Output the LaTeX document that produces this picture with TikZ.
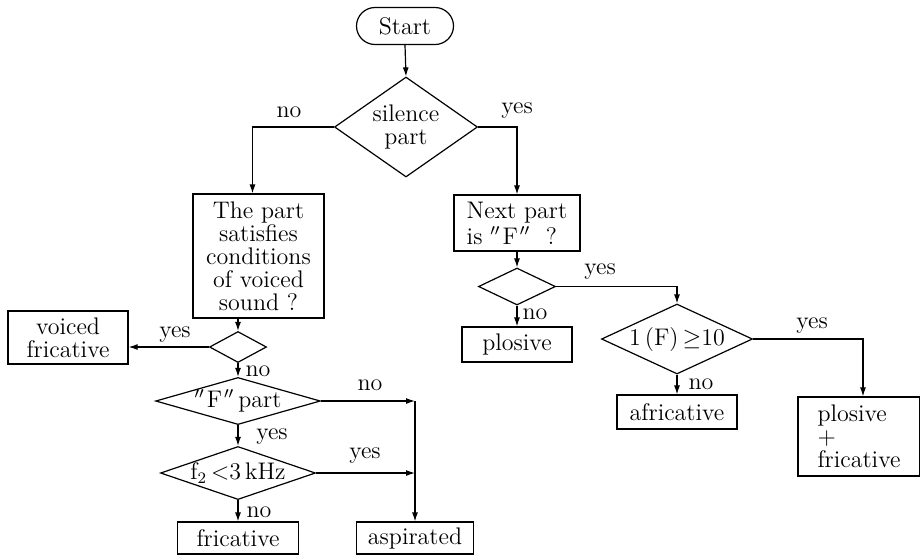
\documentclass[tikz,border=0pt]{standalone}
\usetikzlibrary{shapes.geometric,shapes.misc,arrows.meta,calc}
\begin{document}
\begin{tikzpicture}[x=0.5pt,y=-0.5pt,
  font=\fontsize{12}{11.5}\selectfont,
  line width=0.6pt,
  box/.style={draw,rectangle,inner sep=0pt,align=center},
  dia/.style={draw,diamond,inner sep=0pt,align=center},
  lab/.style={inner sep=0pt},
  arr/.style={-{Latex[length=4.5pt,width=3pt]}}]
\useasboundingbox (0,0) rectangle (920,559);

% nodes
\node[draw,rounded rectangle,inner sep=0pt,minimum width=48.5pt,minimum height=18.5pt] (start) at (405,26) {Start};
\node[dia,aspect=1.43,minimum width=71.5pt,minimum height=50pt] (sil) at (406,127) {silence\\part};
\node[box,minimum width=65.5pt,minimum height=62pt] (voiced) at (258.5,256) {The part\\satisfies\\conditions\\of voiced\\sound ?};
\node[dia,aspect=1.84,minimum width=28.5pt,minimum height=15.5pt] (d1) at (238,347) {};
\node[box,minimum width=60pt,minimum height=26.5pt] (vf) at (68,337.5) {voiced\\fricative};
\node[dia,aspect=3.5,minimum width=80.5pt,minimum height=23pt] (fpart) at (238,401) {$''$\kern1ptF\kern1pt$''$\,part};
\node[dia,aspect=2.92,minimum width=77.5pt,minimum height=26.5pt] (f2) at (238,473) {f$_2$\,$<$3\,kHz};
\node[box,minimum width=60.5pt,minimum height=16pt] (fric) at (238,538) {fricative};
\node[box,minimum width=58.5pt,minimum height=16pt] (asp) at (415,538) {aspirated};
\node[box,minimum width=63pt,minimum height=28pt,align=left] (next) at (517,223) {Next part\\[1.5pt]is $''$\kern1ptF\kern1pt$''$\ \ ?};
\node[dia,aspect=2.08,minimum width=38.5pt,minimum height=18.5pt] (d2) at (517,286.5) {};
\node[box,minimum width=55pt,minimum height=17.5pt] (plos) at (517,344.5) {plosive};
\node[dia,aspect=2.16,minimum width=75.5pt,minimum height=35pt] (one) at (677,339) {1\,(F)\,$\geq$10};
\node[box,minimum width=60pt,minimum height=17pt] (afr) at (677,412) {africative};
\node[box,minimum width=61pt,minimum height=39.5pt,align=left] (pf) at (859,436.5) {plosive\\$+$\\fricative};

% connectors
\draw[arr] (start.south) -- (sil.north);
\draw[arr] (sil.west) -| ($(voiced.north)+(-6,0)$);
\draw[arr] (sil.east) -| (next.north);
\draw[arr] (voiced.south -| d1.north) -- (d1.north);
\draw[arr] (d1.west) -- (d1.west -| vf.east);
\draw[arr] (d1.south) -- (fpart.north);
\draw[arr] (fpart.east) -- (fpart.east -| asp.north);
\draw[arr] (fpart.east -| asp.north) -- (asp.north);
\draw[arr] (fpart.south) -- (f2.north);
\draw[arr] (f2.east) -- (f2.east -| asp.north);
\draw[arr] (f2.south) -- (fric.north);
\draw[arr] (next.south) -- (d2.north);
\draw[arr] (d2.south) -- (plos.north);
\draw[arr] (d2.east) -| (one.north);
\draw[arr] (one.south) -- (afr.north);
\draw[arr] (one.east) -| ($(pf.north)+(4,0)$);

% labels
\node[lab] (l1) at (289,112) {no};
\node[lab] (l2) at (517,111) {yes};
\node[lab] (l3) at (175,335) {yes};
\node[lab] (l4) at (258,371) {no};
\node[lab] (l5) at (370,385) {no};
\node[lab] (l6) at (272,437) {yes};
\node[lab] (l7) at (365,456) {yes};
\node[lab] (l8) at (259,512) {no};
\node[lab] (l9) at (600,272) {yes};
\node[lab] (l10) at (535,314) {no};
\node[lab] (l11) at (812,326) {yes};
\node[lab] (l12) at (701,384) {no};
\end{tikzpicture}
\end{document}
